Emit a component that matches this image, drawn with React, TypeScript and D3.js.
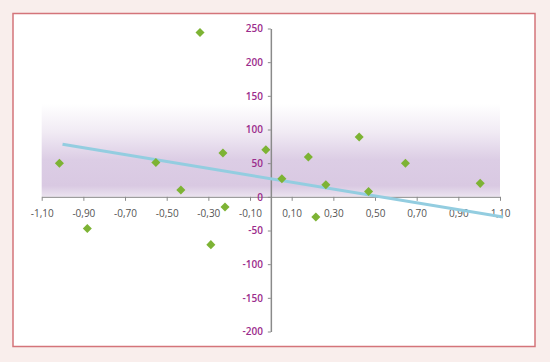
//@ts-nocheck
import React, { useEffect, useRef } from "react";
import * as d3 from "d3";

// scatter points
const pointsX = [-1.015, -0.881, -0.552, -0.432, -0.34, -0.288, -0.23, -0.22, -0.024, 0.053, 0.18, 0.216, 0.264, 0.424, 0.469, 0.646, 1.005];
const pointsY = [50, -47, 51, 10, 244, -71, 65, -15, 70, 27, 59, -30, 18, 89, 8, 50, 20];

// trend line end points
const trendX = [-1.0, 1.115];
const trendY = [78, -30];

const xTicks = [-1.1, -0.9, -0.7, -0.5, -0.3, -0.1, 0.1, 0.3, 0.5, 0.7, 0.9, 1.1];
const yTicks = [250, 200, 150, 100, 50, 0, -50, -100, -150, -200];
const bandTop = 138;

const W = 550;
const H = 362;

const App = () => {
  const svgRef = useRef<SVGSVGElement>(null);

  useEffect(() => {
    const svg = d3.select(svgRef.current);
    svg.selectAll("*").remove();

    const x = d3.scaleLinear().domain([-1.1, 1.1]).range([41.7, 500]);
    const y = d3.scaleLinear().domain([-200, 250]).range([331.5, 28.5]);

    svg.append("rect").attr("width", W).attr("height", H).attr("fill", "#f9eeec");
    svg
      .append("rect")
      .attr("x", 13)
      .attr("y", 13.5)
      .attr("width", 522)
      .attr("height", 333)
      .attr("fill", "#fff")
      .attr("stroke", "#d4747a")
      .attr("stroke-width", 1.5);

    // gradient band
    const defs = svg.append("defs");
    const grad = defs
      .append("linearGradient")
      .attr("id", "band")
      .attr("x1", 0)
      .attr("y1", 0)
      .attr("x2", 0)
      .attr("y2", 1);
    [
      [0, "#ffffff"],
      [0.3, "#f1ebf4"],
      [0.6, "#dccde5"],
      [0.88, "#d9c9e2"],
      [1, "#ebe3ef"],
    ].forEach(([o, c]) => grad.append("stop").attr("offset", o).attr("stop-color", c));

    svg
      .append("rect")
      .attr("x", x(-1.1))
      .attr("y", y(bandTop))
      .attr("width", x(1.1) - x(-1.1))
      .attr("height", y(0) - y(bandTop))
      .attr("fill", "url(#band)");

    // x axis
    const xAxis = svg
      .append("g")
      .attr("transform", `translate(0,${y(0)})`)
      .call(
        d3
          .axisBottom(x)
          .tickValues(xTicks)
          .tickSize(4)
          .tickSizeOuter(0)
          .tickPadding(9)
          .tickFormat((d) => d3.format(".2f")(d).replace(".", ",").replace("−", "-"))
      );
    xAxis.select(".domain").attr("stroke", "#8a8a8a").attr("stroke-width", 1);
    xAxis.selectAll(".tick line").attr("stroke", "#8a8a8a");
    xAxis
      .selectAll(".tick text")
      .attr("fill", "#555")
      .attr("font-family", "'Open Sans', sans-serif")
      .attr("font-size", 10);

    // y axis
    const yAxis = svg
      .append("g")
      .attr("transform", `translate(${x(0)},0)`)
      .call(
        d3
          .axisLeft(y)
          .tickValues(yTicks)
          .tickSize(3)
          .tickSizeOuter(0)
          .tickPadding(5)
          .tickFormat((d) => String(d))
      );
    yAxis.select(".domain").attr("stroke", "#8a8a8a").attr("stroke-width", 1.5);
    yAxis.selectAll(".tick line").attr("stroke", "#8a8a8a");
    yAxis
      .selectAll(".tick text")
      .attr("fill", "#9b2c8c")
      .attr("font-family", "'Open Sans', sans-serif")
      .attr("font-weight", 600)
      .attr("font-size", 10);

    // trend line
    svg
      .append("path")
      .datum(trendX.map((v, i) => [v, trendY[i]]))
      .attr("fill", "none")
      .attr("stroke", "#93cde0")
      .attr("stroke-width", 3)
      .attr(
        "d",
        d3
          .line()
          .x((d) => x(d[0]))
          .y((d) => y(d[1]))
      );

    // points
    const diamond = d3.symbol().type(d3.symbolDiamond2).size(52);
    svg
      .append("g")
      .selectAll("path")
      .data(pointsX.map((v, i) => [v, pointsY[i]]))
      .join("path")
      .attr("d", diamond)
      .attr("transform", (d) => `translate(${x(d[0])},${y(d[1])})`)
      .attr("fill", "#7db334");
  }, []);

  return (
    <div style={{ position: "absolute", left: 0, top: 0 }}>
      <svg ref={svgRef} width={W} height={H}></svg>
    </div>
  );
};

export default App;
